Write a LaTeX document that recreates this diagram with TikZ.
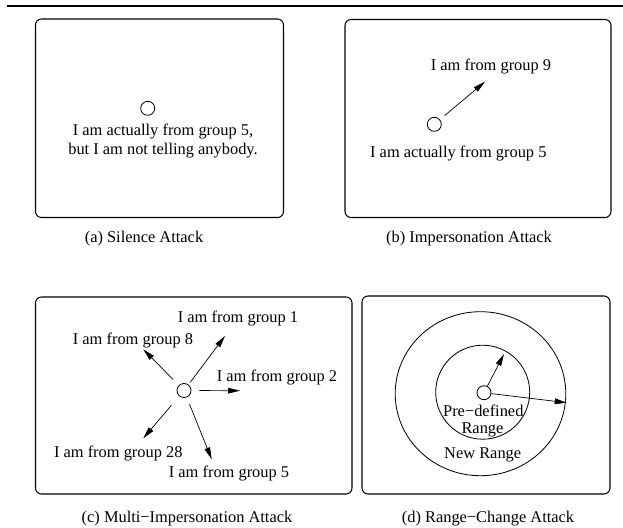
\documentclass[tikz,border=0pt]{standalone}
\usepackage{fontspec}
\setmainfont{Liberation Serif}
\usetikzlibrary{arrows.meta}

\begin{document}
\begin{tikzpicture}[x=0.03cm, y=-0.03cm, font=\fontsize{14}{17}\selectfont,
    every node/.style={inner sep=0pt},
    pannello/.style={draw, line width=0.9pt, rounded corners=0.18cm},
    nodo/.style={draw, circle, line width=0.7pt, minimum size=0.42cm},
    freccia/.style={-{Triangle[length=0.36cm, width=0.17cm]}, line width=0.6pt}]
        \useasboundingbox (0,0) rectangle (623,527);
        \draw[line width=1.8pt] (7,6.3) -- (623,6.3);

        % (a)
        \draw[pannello] (35.5,19) rectangle (283.5,217.5);
        \node[nodo] (sa) at (147.7,108.3) {};
        \node[align=center] (ta) at (163,141) {I am actually from group 5,\\ but I am not telling anybody.};
        \node (capa) at (144,239) {(a) Silence Attack};

        % (b)
        \draw[pannello] (345,19.5) rectangle (611,217.5);
        \node[nodo] (sb) at (434.3,124.3) {};
        \coordinate (pb) at (485,81.7);
        \draw[freccia, shorten <=0.18cm] (sb) -- (pb);
        \node (lb9) at (491,66.7) {I am from group 9};
        \node (lb5) at (458.3,153.3) {I am actually from group 5};
        \node (capb) at (469,239) {(b) Impersonation Attack};

        % (c)
        \draw[pannello] (35.5,297) rectangle (352,494);
        \node[nodo] (sc) at (184,390.5) {};
        \coordinate (c1) at (225,336);
        \coordinate (c8) at (143.3,349.3);
        \coordinate (c2) at (240,390.7);
        \coordinate (c28) at (143.3,438.3);
        \coordinate (c5) at (211.7,459.3);
        \foreach \fine/\gap in {c1/0.08cm, c8/0.24cm, c2/0.24cm, c28/0.36cm, c5/0.22cm}
            \draw[freccia, shorten <=\gap] (sc) -- (\fine);
        \node (lc1) at (238,318.3) {I am from group 1};
        \node (lc8) at (133,340) {I am from group 8};
        \node (lc2) at (277,377) {I am from group 2};
        \node (lc28) at (118.3,453.3) {I am from group 28};
        \node (lc5) at (229,473.3) {I am from group 5};
        \node (capc) at (187,518.7) {(c) Multi−Impersonation Attack};

        % (d)
        \draw[pannello] (362,296) rectangle (610,494);
        \draw[line width=0.7pt] (482.7,392.2) circle (47);
        \draw[line width=0.7pt] (480.5,393.7) ellipse [x radius=85.3, y radius=82];
        \node[nodo] (sd) at (484,392.7) {};
        \coordinate (pd1) at (504,354);
        \coordinate (pd2) at (566.7,402.7);
        \draw[freccia] (sd) -- (pd1);
        \draw[freccia] (sd) -- (pd2);
        \node[anchor=base] (pre) at (483.3,416.7) {Pre−defined};
        \node[anchor=base] (rng) at (482.5,433.3) {Range};
        \node (nrng) at (482.7,455.3) {New Range};
        \node (capd) at (488,518.7) {(d) Range−Change Attack};
    \end{tikzpicture}
\end{document}
